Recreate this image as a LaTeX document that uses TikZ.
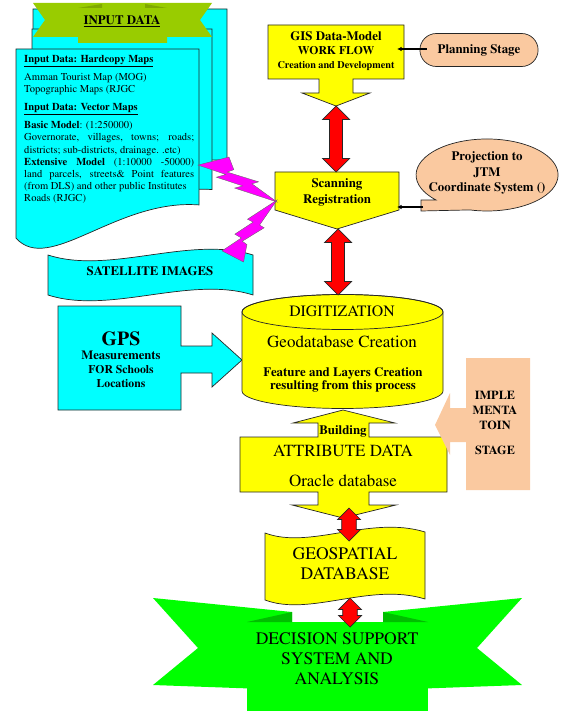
\documentclass[tikz,border=0pt]{standalone}
\usepackage[T1]{fontenc}
\renewcommand\rmdefault{ptm}
\usetikzlibrary{calc,shapes.misc,arrows.meta}

\definecolor{pagecyan}{HTML}{00FFFF}
\definecolor{boxyellow}{HTML}{FFFF00}
\definecolor{stagepeach}{HTML}{FAC9A0}
\definecolor{boltpink}{HTML}{FF00FF}
\definecolor{banneroliv}{HTML}{99CC00}
\definecolor{bannerdark}{HTML}{7FA800}
\definecolor{ribbongreen}{HTML}{00FF00}
\definecolor{ribbonfold}{HTML}{00BE00}

\newcommand\dblarrow[4]{%
  \draw[redarrow] let \p1=(#3), \p2=(#4) in
    (\x1,\y1) -- (\x1+#1,\y1-#1) -- (\x1+#2,\y1-#1) -- (\x1+#2,\y2+#1)
    -- (\x1+#1,\y2+#1) -- (\x1,\y2) -- (\x1-#1,\y2+#1) -- (\x1-#2,\y2+#1)
    -- (\x1-#2,\y1-#1) -- (\x1-#1,\y1-#1) -- cycle;}

\tikzset{
outline/.style={draw=black!85, line width=0.6pt},
ybox/.style={outline, fill=boxyellow},
cbox/.style={outline, fill=pagecyan},
pbox/.style={outline, fill=stagepeach},
redarrow/.style={outline, fill=red},
thinarrow/.style={line width=1pt, -{Latex[length=4pt,width=4pt]}},
sheet/.pic={
  \draw[cbox] (0,0) -- (1,0) -- (1,0.772)
     .. controls (0.55,0.74) and (0.18,1.12) .. (0,0.936) -- cycle;
  },
bolt/.pic={
  \draw[fill=boltpink, draw=black!60, line width=0.3pt]
     (0.392,0) -- (0,0.180) -- (0.352,0.388) -- (0.2325,0.449) -- (0.566,0.643)
     -- (0.4635,0.6905) -- (1,1) -- (0.6837,0.5962) -- (0.7674,0.5519)
     -- (0.3692,0.335) -- (0.4538,0.2815) -- cycle;
  }
}

\begin{document}
\begin{tikzpicture}[x=0.03cm, y=-0.03cm]
\useasboundingbox (0,0) rectangle (560,711);

% input data sheets
\pic[xscale=194, yscale=196] at (33,9) {sheet};
\pic[xscale=180, yscale=208] at (32,29) {sheet};
\pic[xscale=183, yscale=202] at (16,49) {sheet};
\fill[banneroliv] (33,3) -- (212,3) -- (200,20) -- (212,37) -- (167,37) -- (167,43)
  -- (78,43) -- (78,37) -- (33,37) -- (45,20) -- cycle;
\fill[bannerdark] (78,8) -- (102,4) -- (102,8) -- cycle;
\fill[bannerdark] (167,8) -- (145,4) -- (145,8) -- cycle;
\node[font=\bfseries\fontsize{11}{13}\selectfont] (inputtitle) at (122,21) {\underline{INPUT DATA}};
\node[anchor=north west, text width=5.1cm, align=justify, inner sep=0pt,
      font=\fontsize{9}{10.4}\selectfont] (inputtext) at (24,55)
  {\hyphenpenalty=10000
   \textbf{\underline{Input Data: Hardcopy Maps}}\par\vspace{5pt}
   Amman Tourist Map (MOG)\par
   Topographic Maps (RJGC\par\vspace{5pt}
   \textbf{\underline{Input Data: Vector Maps}}\par\vspace{5pt}
   \textbf{Basic Model}: (1:250000)\par
   Governorate, villages, towns; roads;\linebreak
   districts; sub-districts, drainage. .etc)\par
   \textbf{Extensive Model} (1:10000 -50000)\linebreak
   land parcels, streets\& Point features\linebreak
   (from DLS) and other public Institutes\par
   Roads (RJGC)};

% satellite images
\draw[cbox] (48,255) .. controls (110,275) and (190,235) .. (253,255) -- (253,295)
  .. controls (190,275) and (110,315) .. (48,295) -- cycle;
\node[font=\bfseries\fontsize{11}{13}\selectfont] (sat) at (150,271) {SATELLITE IMAGES};

% GIS work flow
\draw[ybox] (268,25) -- (404,25) -- (404,79) -- (353,79) -- (353,93) -- (370,93)
  -- (336,106) -- (302,93) -- (319,93) -- (319,79) -- (268,79) -- cycle;
\node[font=\bfseries, align=center, inner sep=0pt] (gis) at (336,51)
  {\fontsize{11}{12.75}\selectfont GIS Data-Model\\ WORK FLOW\\
   \fontsize{8.7}{12.75}\selectfont Creation and Development};
\coordinate (gistip) at (336,106);
\coordinate (gisE) at (404,49);

\node[rounded rectangle, pbox, minimum width=3.78cm, minimum height=0.99cm,
      font=\bfseries\fontsize{11}{13}\selectfont] (plan) at (479,50) {Planning Stage};
\draw[thinarrow] ($(plan.west)+(7,-1)$) -- ($(gisE)+(-7,0)$);

% scanning
\draw[ybox] (275,172) -- (399,172) -- (399,210) -- (337,229) -- (275,210) -- cycle;
\node[font=\bfseries\fontsize{11}{13.6}\selectfont, align=center] (scan) at (337,192)
  {Scanning\\Registration};
\coordinate (scantop) at (336,172);
\coordinate (scantip) at (338,229);
\coordinate (scanE) at (399,207);
\coordinate (scanW) at (275,200);

\draw[pbox] (436,200) arc[start angle=224, end angle=-104, x radius=2.13cm, y radius=1.08cm]
  -- (421,211) -- (421,200) -- cycle;
\node[font=\bfseries\fontsize{11}{13.2}\selectfont, align=center] (proj) at (487,173)
  {Projection to\\JTM\\Coordinate System ()};
\coordinate (projtail) at (421,207);
\draw[thinarrow] ($(projtail)+(2,0)$) -- ($(scanE)+(-2,0)$);

% lightning
\pic[xscale=79, yscale=45] at (198,157) {bolt};
\pic[xscale=55, yscale=-62] at (222,262) {bolt};

% GPS
\draw[cbox] (58,306) -- (181,306) -- (181,346) -- (212,346) -- (212,333) -- (242,360)
  -- (212,387) -- (212,373) -- (181,373) -- (181,410) -- (58,410) -- cycle;
\node[font=\bfseries, align=center, inner sep=0pt] (gps) at (121,360)
  {\fontsize{17}{19}\selectfont GPS\\
   \fontsize{10.8}{13}\selectfont Measurements\\FOR Schools\\Locations};

% digitization
\draw[ybox] (242,312) -- (242,391) arc[start angle=180, end angle=360, x radius=3.015cm, y radius=0.525cm]
  -- (443,312) arc[start angle=0, end angle=180, x radius=3.015cm, y radius=0.525cm] -- cycle;
\draw[outline] (342.5,312) ellipse [x radius=3.015cm, y radius=0.525cm];
\node[font=\fontsize{13.5}{16}\selectfont] (digit) at (342,311) {DIGITIZATION};
\node[font=\fontsize{14.5}{16}\selectfont] (geocreate) at (342,342) {Geodatabase Creation};
\node[font=\bfseries\fontsize{11}{11.5}\selectfont, align=center] (feature) at (343,380)
  {Feature and Layers Creation\\resulting from this process};
\coordinate (cyltop) at (338,295);

% attribute data
\draw[ybox] (240,437) -- (318,437) -- (318,423) -- (293,423) -- (343,410) -- (395,423)
  -- (369,423) -- (369,437) -- (447,437) -- (447,492) -- (369,492) -- (369,505)
  -- (396,505) -- (343,518) -- (292,505) -- (318,505) -- (318,492) -- (240,492) -- cycle;
\node[font=\bfseries\fontsize{11}{13}\selectfont] (building) at (343,431) {Building};
\node[font=\fontsize{14.5}{16}\selectfont] (attr) at (343,451) {ATTRIBUTE DATA};
\node[font=\fontsize{14.5}{16}\selectfont] (oracle) at (343,481) {Oracle database};
\coordinate (attrtip) at (349,508);

% implementation stage
\fill[stagepeach] (466,358) -- (530,358) -- (530,490) -- (466,490) -- (466,442) -- (450,442)
  -- (450,455) -- (435,425) -- (450,393) -- (450,408) -- (466,408) -- cycle;
\node[font=\bfseries\fontsize{10.5}{12.75}\selectfont, align=center] (impl) at (495,423)
  {IMPLE\\MENTA\\TOIN\\[9pt]STAGE};

% decision support ribbon
\fill[ribbongreen] (153,598) -- (292,612) -- (292,690) -- (153,685) -- (198,648) -- cycle;
\fill[ribbongreen] (522,598) -- (383,612) -- (383,690) -- (522,685) -- (477,648) -- cycle;
\fill[ribbongreen] (247,622) rectangle (428,711);
\fill[ribbonfold] (247,622) -- (292,612) -- (292,622) -- cycle;
\fill[ribbonfold] (428,622) -- (383,612) -- (383,622) -- cycle;
\node[font=\fontsize{15}{17}\selectfont, align=center] (dss) at (337,659)
  {DECISION SUPPORT\\SYSTEM AND\\ANALYSIS};
\coordinate (dsstop) at (350,627);

% geospatial database
\draw[ybox] (265,533) .. controls (310,550) and (370,515) .. (425,532) -- (425,599)
  .. controls (370,582) and (310,617) .. (265,600) -- cycle;
\node[font=\fontsize{15}{17}\selectfont, align=center] (geodb) at (345,564)
  {GEOSPATIAL\\DATABASE};
\coordinate (geotop) at (349,541);
\coordinate (geobottom) at (350,598);

% red connectors
\dblarrow{11.5pt}{5.5pt}{gistip}{scantop}
\dblarrow{11.5pt}{5.5pt}{scantip}{cyltop}
\dblarrow{9.8pt}{6.2pt}{attrtip}{geotop}
\dblarrow{9.8pt}{6.2pt}{geobottom}{dsstop}
\end{tikzpicture}
\end{document}
